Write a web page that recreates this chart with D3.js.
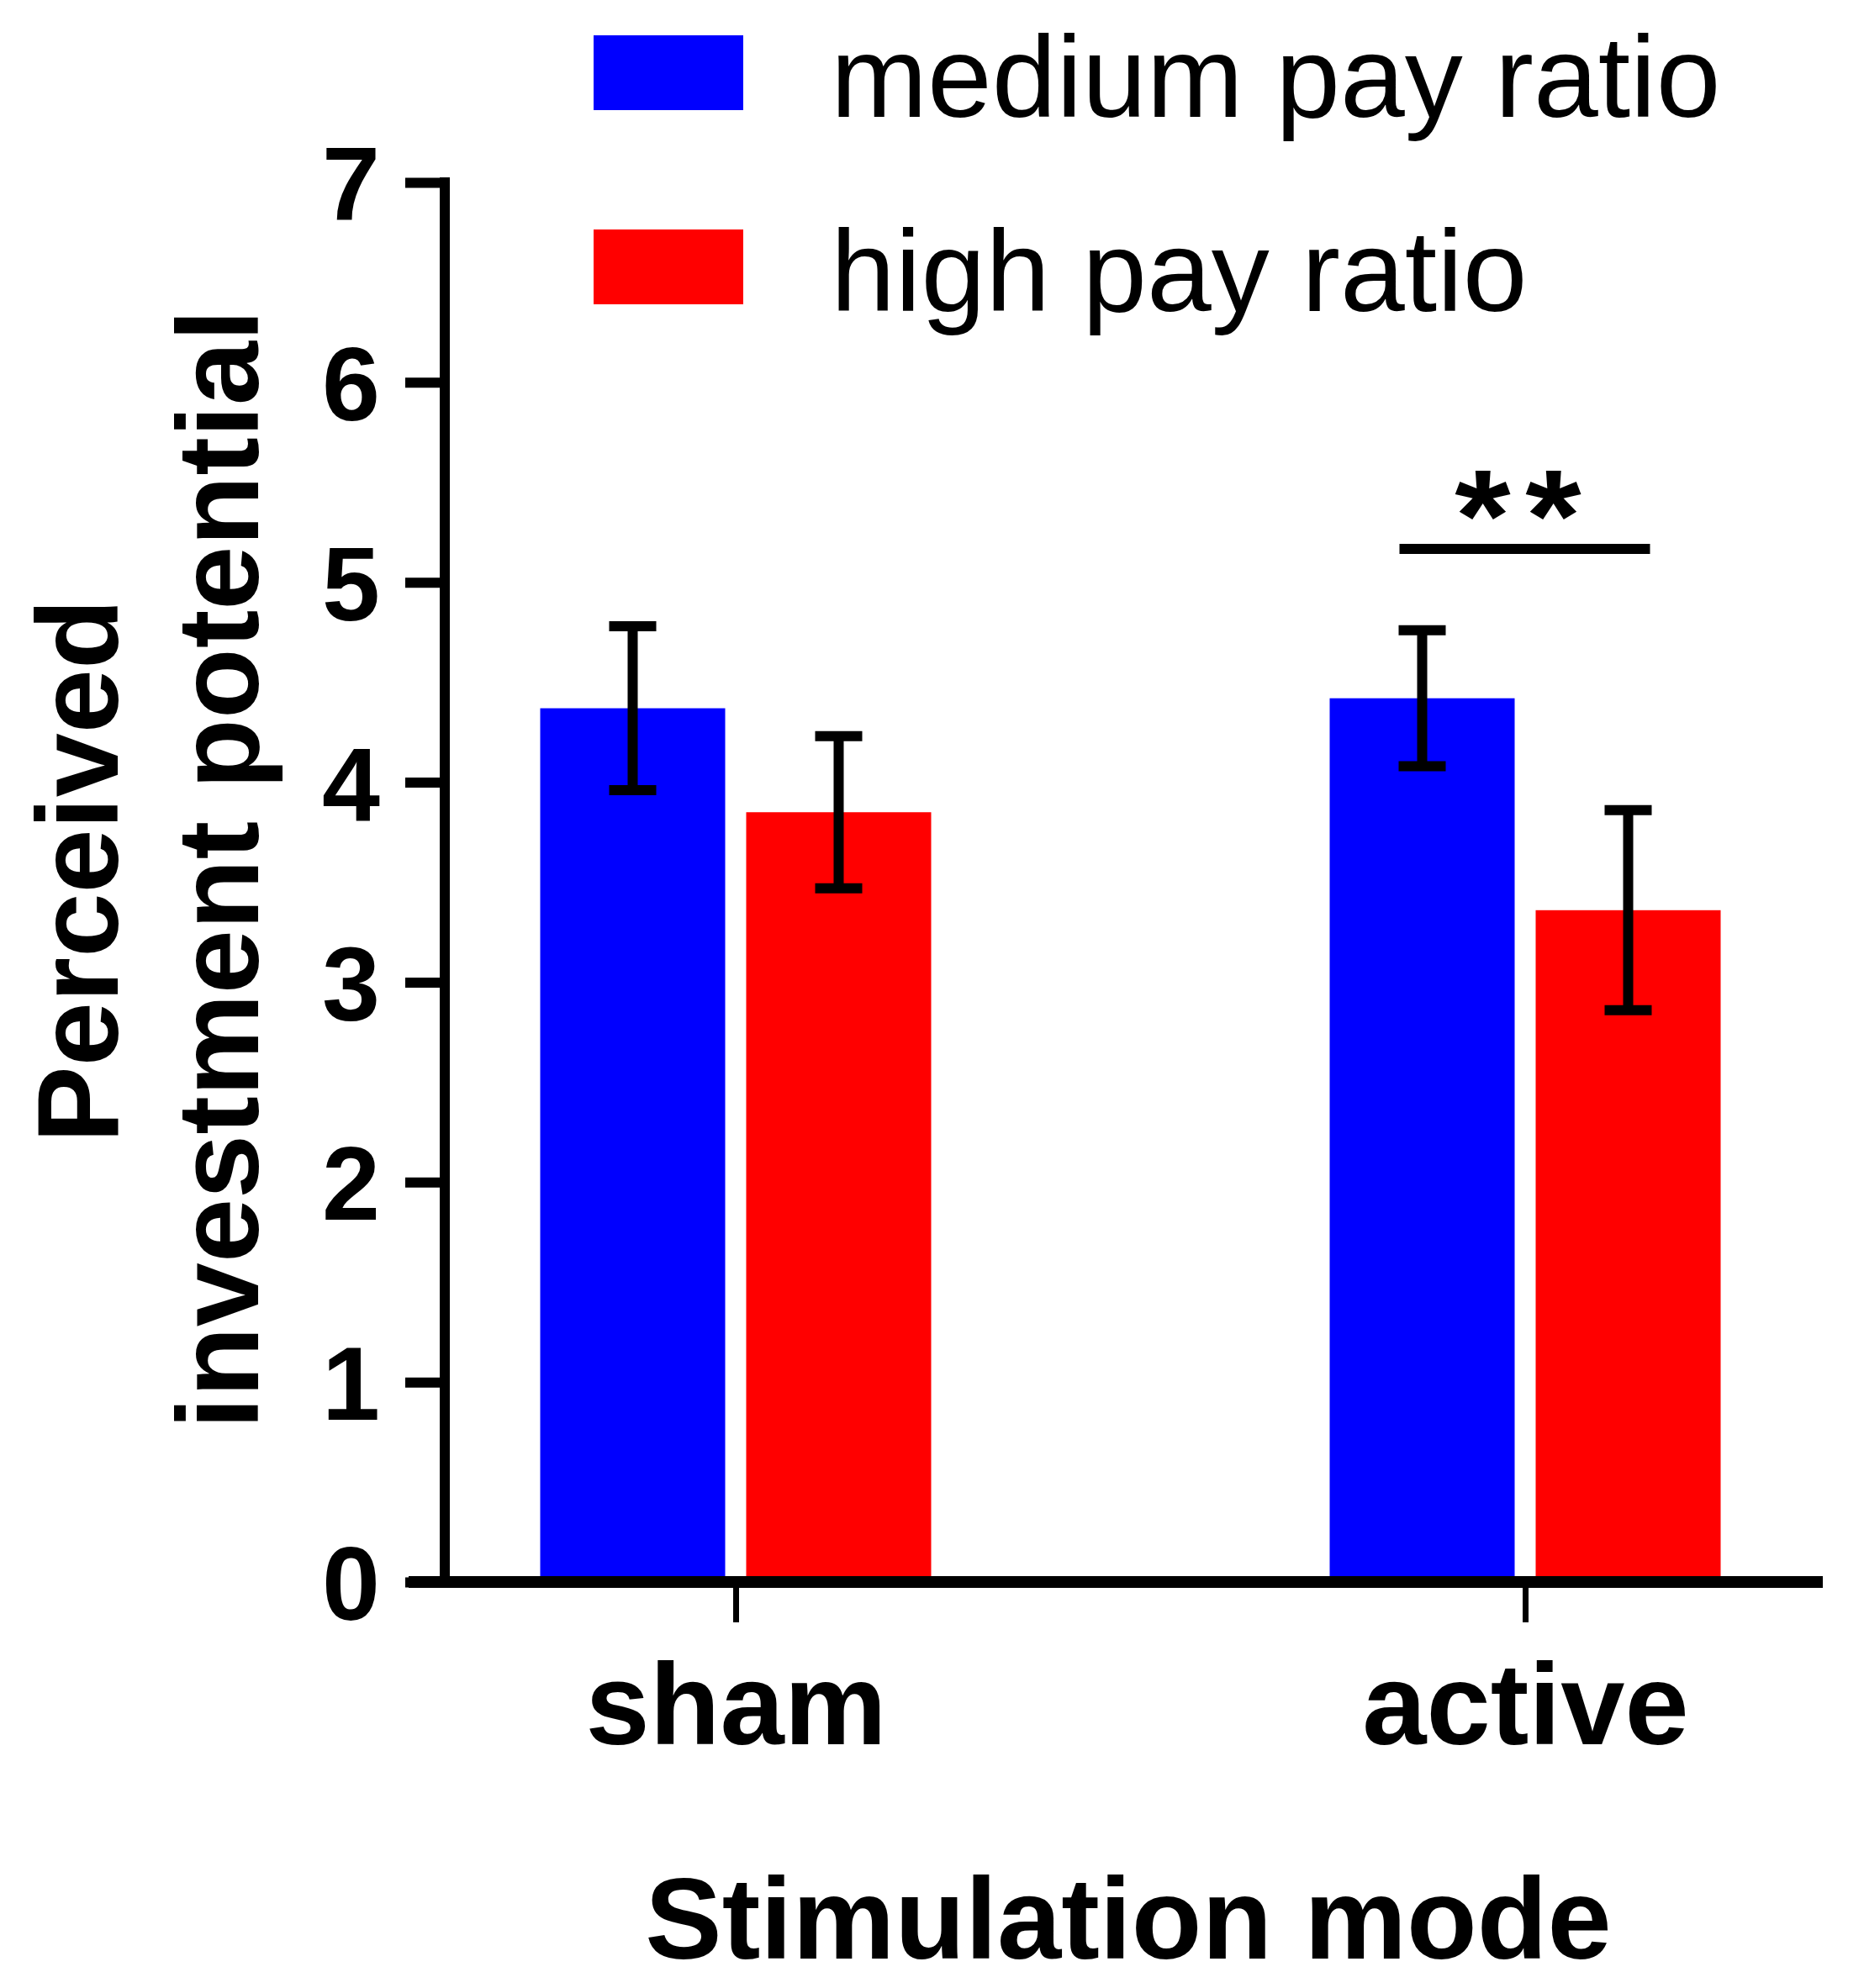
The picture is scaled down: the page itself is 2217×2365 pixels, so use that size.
<!DOCTYPE html>
<html lang="en">
<head>
  <meta charset="UTF-8">
  <title>Perceived investment potential</title>
  <script src="https://d3js.org/d3.v7.min.js"></script>
  <style>
    body {
      margin: 0;
      padding: 0;
      background-color: #ffffff;
    }
    svg text {
      font-family: "Liberation Sans", Arial, sans-serif;
      fill: #000;
    }
  </style>
</head>
<body>
  <div id="chart"></div>

  <script>
    // Data
    const modes = ['sham', 'active'];
    const series = ['medium pay ratio', 'high pay ratio'];
    const colors = ['#0000ff', '#ff0000'];
    const mediumMeans = [4.37, 4.42];
    const mediumErrors = [0.41, 0.34];
    const highMeans = [3.85, 3.36];
    const highErrors = [0.38, 0.50];
    const yTicks = [0, 1, 2, 3, 4, 5, 6, 7];

    const width = 2217;
    const height = 2365;

    const svg = d3.select('#chart')
      .append('svg')
      .attr('width', width)
      .attr('height', height);

    // Scales
    const y = d3.scaleLinear().domain([0, 7]).range([1882, 217]);
    const x = d3.scalePoint().domain(modes).range([875, 1814]);
    const inner = d3.scaleBand().domain(series).range([-232.5, 232.5]).paddingInner(0.102);

    const rows = [];
    modes.forEach((m, i) => {
      rows.push({ mode: m, s: series[0], mean: mediumMeans[i], err: mediumErrors[i], color: colors[0] });
      rows.push({ mode: m, s: series[1], mean: highMeans[i], err: highErrors[i], color: colors[1] });
    });

    // Bars
    svg.append('g')
      .selectAll('rect')
      .data(rows)
      .enter()
      .append('rect')
      .attr('x', d => x(d.mode) + inner(d.s))
      .attr('y', d => y(d.mean))
      .attr('width', inner.bandwidth())
      .attr('height', d => y(0) - y(d.mean))
      .attr('fill', d => d.color);

    // Error bars
    const eb = svg.append('g')
      .attr('stroke', '#000')
      .attr('stroke-width', 12);

    const cx = d => x(d.mode) + inner(d.s) + inner.bandwidth() / 2;

    eb.selectAll('line.v')
      .data(rows)
      .enter()
      .append('line')
      .attr('x1', cx)
      .attr('x2', cx)
      .attr('y1', d => y(d.mean + d.err))
      .attr('y2', d => y(d.mean - d.err));

    eb.selectAll('line.top')
      .data(rows)
      .enter()
      .append('line')
      .attr('x1', d => cx(d) - 28)
      .attr('x2', d => cx(d) + 28)
      .attr('y1', d => y(d.mean + d.err))
      .attr('y2', d => y(d.mean + d.err));

    eb.selectAll('line.bot')
      .data(rows)
      .enter()
      .append('line')
      .attr('x1', d => cx(d) - 28)
      .attr('x2', d => cx(d) + 28)
      .attr('y1', d => y(d.mean - d.err))
      .attr('y2', d => y(d.mean - d.err));

    // Y axis
    const yAxis = svg.append('g')
      .attr('transform', 'translate(529,0)')
      .call(d3.axisLeft(y).tickValues(yTicks).tickFormat(d3.format('d'))
        .tickSize(47).tickSizeOuter(0).tickPadding(30));

    yAxis.select('.domain')
      .attr('stroke', '#000')
      .attr('stroke-width', 12)
      .attr('d', `M0,${y(7) - 6}V${y(0)}`);
    yAxis.selectAll('.tick line')
      .attr('stroke', '#000')
      .attr('stroke-width', 12);
    yAxis.selectAll('.tick text')
      .attr('font-size', 124)
      .attr('font-weight', 'bold')
      .attr('font-family', '"Liberation Sans", Arial, sans-serif')
      .attr('dy', '0.36em');

    // X axis
    const xAxis = svg.append('g')
      .attr('transform', `translate(0,${y(0)})`)
      .call(d3.axisBottom(x).tickSize(48).tickPadding(48));

    xAxis.select('.domain').remove();
    xAxis.append('line')
      .attr('x1', 486)
      .attr('x2', 2168)
      .attr('stroke', '#000')
      .attr('stroke-width', 14);
    xAxis.selectAll('.tick line')
      .attr('stroke', '#000')
      .attr('stroke-width', 7);
    xAxis.selectAll('.tick text')
      .attr('font-size', 137)
      .attr('font-weight', 'bold')
      .attr('font-family', '"Liberation Sans", Arial, sans-serif')
      .attr('dy', '0.71em');

    // Axis titles
    svg.append('text')
      .attr('transform', 'translate(140,1036) rotate(-90)')
      .attr('text-anchor', 'middle')
      .attr('font-size', 137)
      .attr('font-weight', 'bold')
      .text('Perceived');

    svg.append('text')
      .attr('transform', 'translate(307,1034) rotate(-90)')
      .attr('text-anchor', 'middle')
      .attr('font-size', 137)
      .attr('font-weight', 'bold')
      .text('investment potential');

    svg.append('text')
      .attr('x', 1342)
      .attr('y', 2330)
      .attr('text-anchor', 'middle')
      .attr('font-size', 137)
      .attr('font-weight', 'bold')
      .text('Stimulation mode');

    // Significance marker on the active group
    const sigLeft = x('active') + inner(series[0]) + inner.bandwidth() / 2 - 27;
    const sigRight = x('active') + inner(series[1]) + inner.bandwidth() / 2 + 26;
    const sigMid = (sigLeft + sigRight) / 2;
    svg.append('line')
      .attr('x1', sigLeft)
      .attr('x2', sigRight)
      .attr('y1', 653)
      .attr('y2', 653)
      .attr('stroke', '#000')
      .attr('stroke-width', 12);

    svg.append('g')
      .selectAll('text')
      .data([-42, 42])
      .enter()
      .append('text')
      .attr('transform', d => `translate(${sigMid - 8 + d},667) scale(1.1,1)`)
      .attr('text-anchor', 'middle')
      .attr('font-size', 155)
      .attr('font-weight', 'bold')
      .text('*');

    // Legend
    const legend = svg.append('g')
      .selectAll('g')
      .data(series)
      .enter()
      .append('g')
      .attr('transform', (d, i) => `translate(706,${42 + i * 231})`);

    legend.append('rect')
      .attr('width', 178)
      .attr('height', 89)
      .attr('fill', (d, i) => colors[i]);

    legend.append('text')
      .attr('x', 282)
      .attr('y', 97)
      .attr('font-size', 138)
      .text(d => d);
  </script>
</body>
</html>
